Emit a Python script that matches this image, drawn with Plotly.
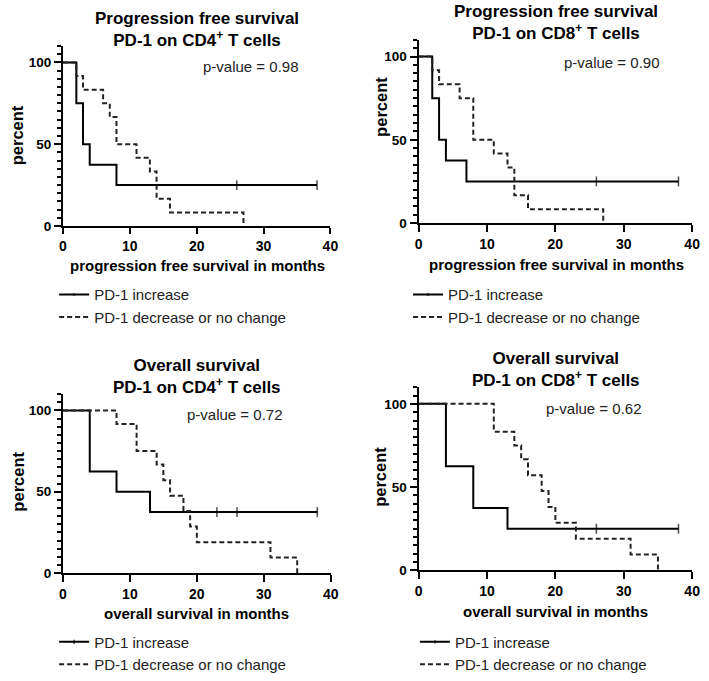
import plotly.graph_objects as go

# ---------------- data ----------------
# Panel A: Progression free survival, PD-1 on CD4+ T cells
pfs_cd4_inc_t = [0, 2, 3, 4, 8, 26, 38]
pfs_cd4_inc_s = [100, 75, 50, 37.5, 25, 25, 25]
pfs_cd4_inc_c = [26, 38]
pfs_cd4_dec_t = [0, 2, 3, 6, 7, 8, 11, 13, 14, 16, 27]
pfs_cd4_dec_s = [100, 91.7, 83.3, 75, 66.7, 50, 41.7, 33.3, 16.7, 8.3, 0]

# Panel B: Progression free survival, PD-1 on CD8+ T cells
pfs_cd8_inc_t = [0, 2, 3, 4, 7, 26, 38]
pfs_cd8_inc_s = [100, 75, 50, 37.5, 25, 25, 25]
pfs_cd8_inc_c = [26, 38]
pfs_cd8_dec_t = [0, 2, 3, 6, 8, 11, 13, 14, 16, 27]
pfs_cd8_dec_s = [100, 91.7, 83.3, 75, 50, 41.7, 33.3, 16.7, 8.3, 0]

# Panel C: Overall survival, PD-1 on CD4+ T cells
os_cd4_inc_t = [0, 4, 8, 13, 23, 26, 38]
os_cd4_inc_s = [100, 62.5, 50, 37.5, 37.5, 37.5, 37.5]
os_cd4_inc_c = [23, 26, 38]
os_cd4_dec_t = [0, 8, 11, 14, 15, 16, 18, 19, 20, 31, 35]
os_cd4_dec_s = [100, 91.7, 75, 66.7, 57.1, 47.6, 38.1, 28.6, 19.0, 9.5, 0]

# Panel D: Overall survival, PD-1 on CD8+ T cells
os_cd8_inc_t = [0, 4, 8, 13, 26, 38]
os_cd8_inc_s = [100, 62.5, 37.5, 25, 25, 25]
os_cd8_inc_c = [26, 38]
os_cd8_dec_t = [0, 11, 14, 15, 16, 18, 19, 20, 23, 31, 35]
os_cd8_dec_s = [100, 83.3, 75, 66.7, 57.1, 47.6, 38.1, 28.6, 19.0, 9.5, 0]

titles = [
    "Progression free survival<br>PD-1 on CD4<sup>+</sup> T cells",
    "Progression free survival<br>PD-1 on CD8<sup>+</sup> T cells",
    "Overall survival<br>PD-1 on CD4<sup>+</sup> T cells",
    "Overall survival<br>PD-1 on CD8<sup>+</sup> T cells",
]
p_values = ["p-value = 0.98", "p-value = 0.90", "p-value = 0.72", "p-value = 0.62"]
x_titles = ["progression free survival in months", "progression free survival in months",
            "overall survival in months", "overall survival in months"]
y_title = "percent"
series_names = ["PD-1 increase", "PD-1 decrease or no change"]
x_tick_step = 10
y_tick_step = 50
y_minor_step = 5

panels = [
    (pfs_cd4_inc_t, pfs_cd4_inc_s, pfs_cd4_inc_c, pfs_cd4_dec_t, pfs_cd4_dec_s),
    (pfs_cd8_inc_t, pfs_cd8_inc_s, pfs_cd8_inc_c, pfs_cd8_dec_t, pfs_cd8_dec_s),
    (os_cd4_inc_t, os_cd4_inc_s, os_cd4_inc_c, os_cd4_dec_t, os_cd4_dec_s),
    (os_cd8_inc_t, os_cd8_inc_s, os_cd8_inc_c, os_cd8_dec_t, os_cd8_dec_s),
]

# ---------------- layout geometry ----------------
W, H = 709, 681
FONT = "Arial, Liberation Sans, Helvetica, sans-serif"


def px(x):
    return x / W


def py(y):
    return 1 - y / H


# plot boxes in pixels: (left, right, y_at_0, y_at_top)
boxes = [
    (60, 332, 229, 46.7),
    (421.7, 700, 226, 40.4),
    (60, 332.3, 580.7, 399.5),
    (421.7, 700, 578, 392.4),
]
title_pos = [(196.7, 30.3), (561.7, 23.3), (196.7, 382.0), (561.7, 374.7)]
pval_pos = [(251.7, 67.7), (618.8, 63.3), (235.3, 420.0), (600.0, 414.0)]
xtitle_pos = [(196.7, 269.3), (561.7, 268.3), (195.5, 621.7), (560.5, 620.0)]
ytitle_pos = [(13.3, 137.0), (383.3, 108.5), (13.3, 488.0), (381.7, 483.0)]
legend_pos = [(51, 282), (411, 282), (51, 634), (418, 634)]
xtick_len = [6, 7, 7, 7]

fig = go.Figure()

for i, (it, isv, ic, dt, ds) in enumerate(panels):
    n = i + 1
    xa = "x" if n == 1 else f"x{n}"
    ya = "y" if n == 1 else f"y{n}"
    lg = "legend" if n == 1 else f"legend{n}"
    sizes = [7 if (t in ic and k > 0) else 0 for k, t in enumerate(it)]
    fig.add_trace(go.Scatter(
        x=it, y=isv, mode="lines+markers", name=series_names[0],
        line=dict(color="black", width=2, shape="hv"),
        marker=dict(symbol="line-ns", size=sizes, color="black",
                    line=dict(color="black", width=1.5)),
        cliponaxis=False, xaxis=xa, yaxis=ya, legend=lg,
    ))
    fig.add_trace(go.Scatter(
        x=dt, y=ds, mode="lines", name=series_names[1],
        line=dict(color="#222222", width=2, shape="hv", dash="5px,3px"),
        cliponaxis=False, xaxis=xa, yaxis=ya, legend=lg,
    ))

    left, right, y0, ytop = boxes[i]
    xkey = "xaxis" if n == 1 else f"xaxis{n}"
    ykey = "yaxis" if n == 1 else f"yaxis{n}"
    fig.layout[xkey] = dict(
        domain=[px(left), px(right)], range=[0, 40], anchor=ya,
        showline=True, linecolor="black", linewidth=2, mirror=False,
        ticks="outside", ticklen=xtick_len[i], tickwidth=2, tickcolor="black",
        tickmode="linear", tick0=0, dtick=x_tick_step,
        showgrid=False, zeroline=False,
        tickfont=dict(family=FONT, size=14, color="black", weight="bold"),
    )
    fig.layout[ykey] = dict(
        domain=[py(y0), py(ytop)], range=[0, 110], anchor=xa,
        showline=True, linecolor="black", linewidth=2,
        ticks="outside", ticklen=7, tickwidth=2, tickcolor="black",
        tickmode="linear", tick0=0, dtick=y_tick_step,
        showgrid=False, zeroline=False,
        minor=dict(ticks="outside", ticklen=4, tickwidth=1.6, tickcolor="black",
                   dtick=y_minor_step, showgrid=False),
        tickfont=dict(family=FONT, size=13.5, color="black", weight="bold"),
    )

    lx, ly = legend_pos[i]
    fig.layout[lg] = dict(
        x=px(lx), y=py(ly), xanchor="left", yanchor="top",
        xref="paper", yref="paper", bgcolor="rgba(0,0,0,0)",
        font=dict(family=FONT, size=15, color="#222222"),
        itemwidth=30, tracegroupgap=0,
    )

    tx, ty = title_pos[i]
    fig.add_annotation(
        x=px(tx), y=py(ty), xref="paper", yref="paper", text=titles[i],
        showarrow=False, xanchor="center", yanchor="middle",
        font=dict(family=FONT, size=17, color="black", weight="bold"),
    )
    vx, vy = pval_pos[i]
    fig.add_annotation(
        x=px(vx), y=py(vy), xref="paper", yref="paper", text=p_values[i],
        showarrow=False, xanchor="center", yanchor="middle",
        font=dict(family=FONT, size=15, color="#222222"),
    )
    xtx, xty = xtitle_pos[i]
    fig.add_annotation(
        x=px(xtx), y=py(xty), xref="paper", yref="paper", text=x_titles[i],
        showarrow=False, xanchor="center", yanchor="middle",
        font=dict(family=FONT, size=15, color="black", weight="bold"),
    )
    ytx, yty = ytitle_pos[i]
    fig.add_annotation(
        x=px(ytx), y=py(yty), xref="paper", yref="paper", text=y_title,
        showarrow=False, xanchor="center", yanchor="middle", textangle=-90,
        font=dict(family=FONT, size=16.5, color="black", weight="bold"),
    )

fig.update_layout(
    width=W, height=H, margin=dict(l=0, r=0, t=0, b=0),
    paper_bgcolor="white", plot_bgcolor="white",
    font=dict(family=FONT, color="black"),
    showlegend=True,
)

fig.write_html(
    "out.html",
    config={"displayModeBar": False},
    post_script="document.body.style.margin='0';document.body.style.padding='0';",
)
